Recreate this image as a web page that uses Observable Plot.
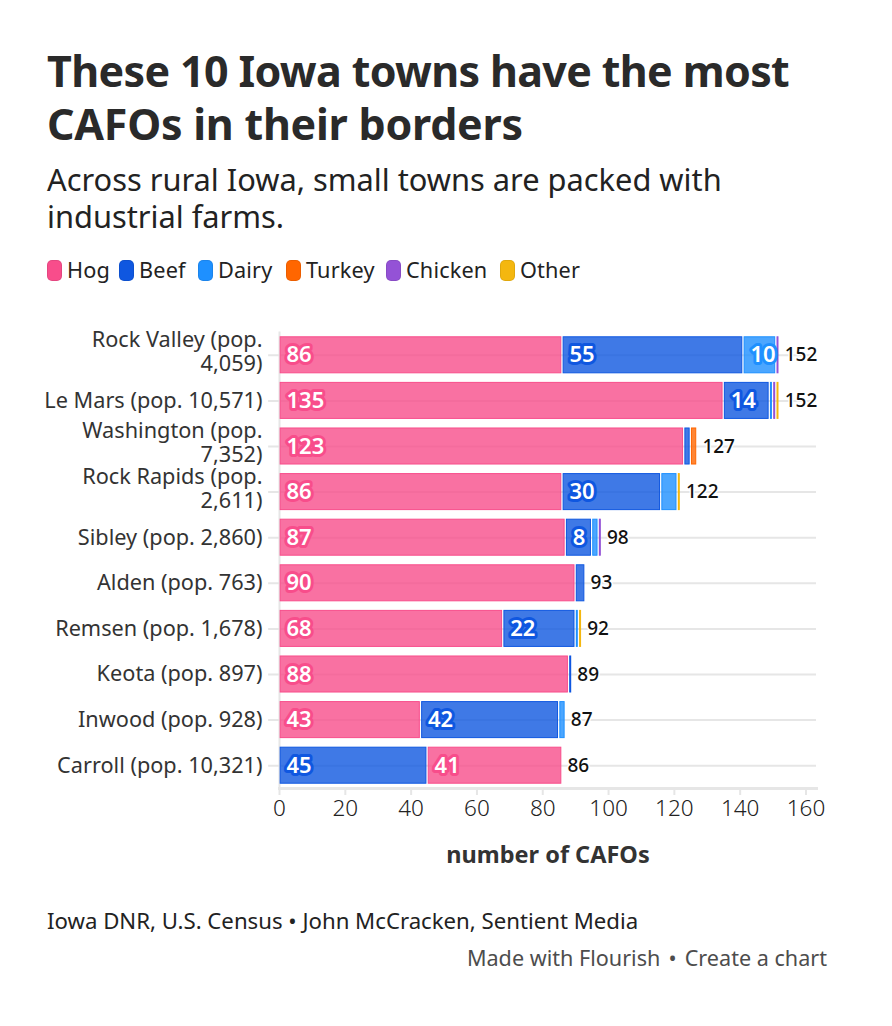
<!DOCTYPE html>
<html><head><meta charset="utf-8">
<script src="https://cdn.jsdelivr.net/npm/d3@7"></script>
<script src="https://cdn.jsdelivr.net/npm/@observablehq/plot@0.6"></script>
<style>
html,body{margin:0;padding:0;background:#fff;width:892px;height:1026px;overflow:hidden;font-family:"Noto Sans",sans-serif;color:#222}
#wrap{position:relative;width:892px;height:1026px}
h1{position:absolute;left:47px;top:44px;margin:0;font-size:43px;line-height:53px;font-weight:700;color:#2a2a2a;width:800px;letter-spacing:-.65px}
h1 span{letter-spacing:-.25px}
#sub{position:absolute;left:47px;top:161px;font-size:30.8px;line-height:37px;font-weight:400;color:#222;width:760px}
#legend{position:absolute;left:47px;top:257px;display:flex;font-size:21.7px;line-height:26px;color:#222;letter-spacing:.15px}
#legend .i{display:flex;align-items:center}
#legend .i:nth-child(1){width:72px}
#legend .i:nth-child(2){width:79px}
#legend .i:nth-child(3){width:88px}
#legend .i:nth-child(4){width:100px}
#legend .i:nth-child(5){width:114px}
#legend .s{width:15px;height:21px;border-radius:5px;margin-right:5px;box-sizing:border-box;border:1px solid rgba(0,0,0,.08)}
#chart{position:absolute;left:0;top:300px}
#src{position:absolute;left:47px;top:907px;font-size:22.2px;line-height:28px;color:#222}
#made{position:absolute;right:65px;top:944px;font-size:21.6px;line-height:28px;color:#4d4d4d;white-space:pre}
#made span{margin:0 2.5px}
</style></head><body><div id="wrap">
<h1>These 10 Iowa towns have the most <span>CAFOs in their borders</span></h1>
<div id="sub">Across rural Iowa, small towns are packed with industrial farms.</div>
<div id="legend"></div>
<div id="chart"></div>
<div id="src">Iowa DNR, U.S. Census • John McCracken, Sentient Media</div>
<div id="made">Made with Flourish <span>•</span> Create a chart</div>
</div>
<script>
const towns = ["Rock Valley (pop.\n4,059)","Le Mars (pop. 10,571)","Washington (pop.\n7,352)","Rock Rapids (pop.\n2,611)","Sibley (pop. 2,860)","Alden (pop. 763)","Remsen (pop. 1,678)","Keota (pop. 897)","Inwood (pop. 928)","Carroll (pop. 10,321)"];
const hog     = [86,135,123,86,87,90,68,88,43,41];
const beef    = [55,14,2,30,8,3,22,1,42,45];
const dairy   = [10,1,0,5,2,0,1,0,2,0];
const turkey  = [0,0,2,0,0,0,0,0,0,0];
const chicken = [1,1,0,0,1,0,0,0,0,0];
const other   = [0,1,0,1,0,0,1,0,0,0];
const seriesNames = ["Hog","Beef","Dairy","Turkey","Chicken","Other"];
const seriesColors = ["#f84d8b","#0f57e0","#1e90ff","#ff6600","#9452d6","#f4b70f"];
const seriesValues = [hog,beef,dairy,turkey,chicken,other];
const xTicks = [0,20,40,60,80,100,120,140,160];
const labelMin = 8;

const rows = towns.flatMap((town,i)=>
  seriesNames.map((series,k)=>({town,series,value:seriesValues[k][i]}))
    .filter(d=>d.value>0)
    .sort((a,b)=>d3.descending(a.value,b.value)));
const totals = towns.map((town,i)=>({town,total:d3.sum(seriesValues,s=>s[i])}));
const labelled = rows.filter(d=>d.value>=labelMin);
const grey = "#e6e6e6";
const multi = towns.filter(t=>t.includes("\n"));
const single = towns.filter(t=>!t.includes("\n"));

const legend = d3.select("#legend");
seriesNames.forEach((n,i)=>{
  const it = legend.append("div").attr("class","i");
  it.append("div").attr("class","s").style("background",seriesColors[i]);
  it.append("span").text(n);
});

const axisText = {tickSize:0,tickPadding:17,fontSize:21.7,fill:"#333",label:null,tickFormat:d=>d};
const plot = Plot.plot({
  width:892, height:575,
  marginLeft:279, marginRight:76, marginTop:32, marginBottom:87,
  style:{background:"transparent",fontFamily:'"Noto Sans",sans-serif',overflow:"visible"},
  x:{domain:[0,163.2],label:null},
  y:{domain:towns,label:null,paddingInner:0.21,paddingOuter:0.105,round:false},
  color:{domain:seriesNames,range:seriesColors},
  marks:[
    Plot.ruleY(towns,{x1:-3.3,x2:163.2,stroke:grey,strokeWidth:2}),
    Plot.frame({anchor:"left",stroke:grey,strokeWidth:2}),
    Plot.frame({anchor:"bottom",stroke:grey,strokeWidth:3}),
    Plot.axisX({ticks:xTicks,tickSize:7,stroke:grey,strokeWidth:2,strokeOpacity:1,tickPadding:5,fontSize:22.5,fontWeight:300,fill:"#222",label:null}),
    Plot.axisY({...axisText,ticks:single}),
    Plot.axisY({...axisText,ticks:multi,lineHeight:1.1,dy:-4}),
    Plot.barX(rows,Plot.stackX({x:"value",y:"town",z:"series",fill:"series",stroke:"series",fillOpacity:0.8,strokeWidth:1,insetLeft:1.15,insetRight:1.15})),
    Plot.text(labelled,Plot.stackX1({x:"value",y:"town",z:"series",text:d=>String(d.value),fill:"white",stroke:"series",strokeWidth:6,strokeLinejoin:"round",textAnchor:"start",dx:7,fontSize:22,fontWeight:600})),
    Plot.text(totals,{x:"total",y:"town",text:"total",textAnchor:"start",dx:5,fontSize:19,fontWeight:500,fill:"#111",stroke:"white",strokeWidth:3}),
    Plot.text(["number of CAFOs"],{frameAnchor:"bottom",dy:74,fontSize:23.5,fontWeight:700,fill:"#333"})
  ]
});
document.getElementById("chart").append(plot);
</script></body></html>
